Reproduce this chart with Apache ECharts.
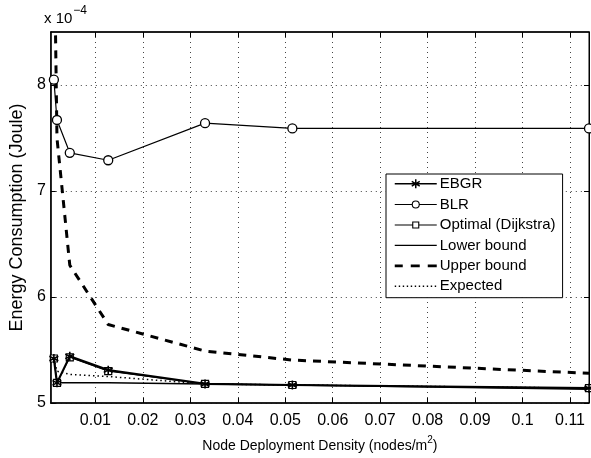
<!DOCTYPE html>
<html>
<head>
    <meta charset="utf-8">
    <title>Energy Consumption vs Node Deployment Density</title>
    <script type="text/javascript" src="https://cdn.jsdelivr.net/npm/echarts@6/dist/echarts.min.js"></script>
    <style>
        html, body { margin: 0; padding: 0; background: #fff; }
        #container { width: 591px; height: 458px; }
    </style>
</head>
<body>
<div id="container"></div>
<script type="text/javascript">
    // values, energy in units of 1e-4 Joule
    var density = [0.00125, 0.0019, 0.0046, 0.0127, 0.0331, 0.0515, 0.114];
    var ebgr = [5.42, 5.19, 5.44, 5.31, 5.18, 5.17, 5.14];
    var blr = [8.05, 7.67, 7.36, 7.29, 7.64, 7.59, 7.59];
    var optimal = [5.42, 5.19, 5.43, 5.30, 5.18, 5.17, 5.14];
    var lowerBound = [5.19, 5.19, 5.19, 5.19, 5.18, 5.17, 5.13];
    var upperBound = [9.6, 7.5, 6.3, 5.74, 5.49, 5.405, 5.28];
    var expected = [5.42, 5.30, 5.27, 5.25, 5.18, 5.17, 5.14];
    var xTicks = [0.01, 0.02, 0.03, 0.04, 0.05, 0.06, 0.07, 0.08, 0.09, 0.1, 0.11];
    var yTicks = [5, 6, 7, 8];

    function pairs(ys) {
        var out = [];
        for (var i = 0; i < density.length; i++) {
            out.push([density[i], ys[i]]);
        }
        return out;
    }

    var font = 'Liberation Sans, Arial, sans-serif';
    var asterisk = 'path://M0,-10L0,10M-8.7,-5L8.7,5M-8.7,5L8.7,-5';
    var gridLine = { show: true, lineStyle: { color: '#444', type: [1, 4], width: 1 } };

    // legend icons, 42 x 14 box (the lone M points fix the box)
    var box = 'M0,0M42,14';
    var iconEbgr = 'path://' + box + 'M0,7H42M21,2.5V11.5M17,4.7L25,9.3M17,9.3L25,4.7';
    var iconBlr = 'path://' + box + 'M0,7H17.5M24.5,7H42M24.5,7A3.5,3.5,0,1,1,17.5,7A3.5,3.5,0,1,1,24.5,7';
    var iconOpt = 'path://' + box + 'M0,7H18M24,7H42M18,4H24V10H18Z';
    var iconLower = 'path://' + box + 'M0,6.3H42V7.7H0Z';
    var iconUpper = 'path://' + box + 'M0,5.6H8V8.4H0ZM16,5.6H25V8.4H16ZM33,5.6H42V8.4H33Z';
    var dots = '';
    for (var d = 0; d < 42; d += 4) {
        dots += 'M' + d + ',6.3h1.4v1.4h-1.4Z';
    }
    var iconExpected = 'path://' + box + dots;

    var dom = document.getElementById('container');
    var myChart = echarts.init(dom, null, { renderer: 'canvas' });

    var option = {
        animation: false,
        backgroundColor: '#fff',
        textStyle: { fontFamily: font, color: '#000' },
        grid: { left: 46, right: 2, top: 32, bottom: 52, show: true, borderColor: '#000', borderWidth: 1 },
        graphic: [{
            type: 'text',
            left: 44,
            top: 5,
            style: {
                text: '{a|x 10}{b|−4}',
                rich: {
                    a: { fontSize: 15, fontFamily: font, fill: '#000', padding: [10, 0, 0, 0] },
                    b: { fontSize: 12, fontFamily: font, fill: '#000', padding: [0, 0, 6, 1] }
                }
            }
        }],
        legend: {
            left: 386,
            top: 174,
            orient: 'vertical',
            itemWidth: 42,
            itemHeight: 14,
            itemGap: 5.4,
            padding: [2, 7, 4, 8],
            backgroundColor: '#fff',
            borderColor: '#000',
            borderWidth: 1,
            borderRadius: 0,
            textStyle: { fontSize: 15, fontFamily: font, color: '#000', padding: [0, 0, 0, -2] },
            data: [
                { name: 'EBGR', icon: iconEbgr, itemStyle: { color: '#000', borderColor: '#000', borderWidth: 1.5 } },
                { name: 'BLR', icon: iconBlr, itemStyle: { color: '#fff', borderColor: '#000', borderWidth: 1.1 } },
                { name: 'Optimal (Dijkstra)', icon: iconOpt, itemStyle: { color: '#fff', borderColor: '#000', borderWidth: 1.1 } },
                { name: 'Lower bound', icon: iconLower, itemStyle: { color: '#000', borderWidth: 0 } },
                { name: 'Upper bound', icon: iconUpper, itemStyle: { color: '#000', borderWidth: 0 } },
                { name: 'Expected', icon: iconExpected, itemStyle: { color: '#000', borderWidth: 0 } }
            ]
        },
        xAxis: [{
            type: 'value',
            position: 'bottom',
            min: 0.0006,
            max: 0.114,
            name: '{a|Node Deployment Density (nodes/m}{s|2}{a|)}',
            nameLocation: 'middle',
            nameGap: 30,
            nameTextStyle: {
                rich: {
                    a: { fontSize: 14, fontFamily: font, color: '#000', padding: [6, 0, 0, 0] },
                    s: { fontSize: 10, fontFamily: font, color: '#000', padding: [0, 0, 6, 0] }
                }
            },
            axisLine: { show: true, lineStyle: { color: '#000', width: 1.5 } },
            axisTick: { show: true, inside: true, length: 5, customValues: xTicks, lineStyle: { color: '#000' } },
            axisLabel: {
                customValues: xTicks,
                margin: 10,
                fontSize: 16,
                color: '#000',
                fontFamily: font,
                formatter: function (v) { return String(+(+v).toFixed(2)); }
            },
            splitLine: gridLine
        }, {
            type: 'value',
            position: 'top',
            min: 0.0006,
            max: 0.114,
            axisLine: { show: true, lineStyle: { color: '#000', width: 1.5 } },
            axisTick: { show: true, inside: true, length: 5, customValues: xTicks, lineStyle: { color: '#000' } },
            axisLabel: { show: false },
            splitLine: { show: false }
        }],
        yAxis: [{
            type: 'value',
            position: 'left',
            min: 5,
            max: 8.5,
            interval: 1,
            name: 'Energy Consumption (Joule)',
            nameLocation: 'middle',
            nameGap: 20,
            nameTextStyle: { fontSize: 18, fontFamily: font, color: '#000' },
            axisLine: { show: true, lineStyle: { color: '#000', width: 1.5 } },
            axisTick: { show: true, inside: true, length: 5, customValues: yTicks, lineStyle: { color: '#000' } },
            axisLabel: {
                customValues: yTicks,
                margin: 5,
                fontSize: 16,
                color: '#000',
                fontFamily: font
            },
            splitLine: gridLine
        }, {
            type: 'value',
            position: 'right',
            min: 5,
            max: 8.5,
            interval: 1,
            axisLine: { show: true, lineStyle: { color: '#000', width: 1 } },
            axisTick: { show: true, inside: true, length: 5, customValues: yTicks, lineStyle: { color: '#000' } },
            axisLabel: { show: false },
            splitLine: { show: false }
        }],
        series: [
            {
                name: 'EBGR',
                type: 'line',
                data: pairs(ebgr),
                symbol: asterisk,
                symbolSize: 9,
                lineStyle: { color: '#000', width: 2.2 },
                itemStyle: { color: '#000', borderColor: '#000', borderWidth: 1.6 },
                z: 5
            },
            {
                name: 'BLR',
                type: 'line',
                data: pairs(blr),
                symbol: 'circle',
                symbolSize: 9,
                lineStyle: { color: '#000', width: 1.2 },
                itemStyle: { color: '#fff', borderColor: '#000', borderWidth: 1.3 },
                z: 4
            },
            {
                name: 'Optimal (Dijkstra)',
                type: 'line',
                data: pairs(optimal),
                symbol: 'rect',
                symbolSize: 7,
                lineStyle: { color: '#000', width: 1 },
                itemStyle: { color: '#fff', borderColor: '#000', borderWidth: 1.2 },
                z: 4
            },
            {
                name: 'Lower bound',
                type: 'line',
                data: pairs(lowerBound),
                symbol: 'none',
                lineStyle: { color: '#000', width: 1.5 },
                itemStyle: { color: '#000' },
                z: 3
            },
            {
                name: 'Upper bound',
                type: 'line',
                data: pairs(upperBound),
                symbol: 'none',
                lineStyle: { color: '#000', width: 3, type: [8, 7] },
                itemStyle: { color: '#000' },
                z: 3
            },
            {
                name: 'Expected',
                type: 'line',
                data: pairs(expected),
                symbol: 'none',
                lineStyle: { color: '#000', width: 1.5, type: [1.5, 3] },
                itemStyle: { color: '#000' },
                z: 3
            }
        ]
    };

    if (option && typeof option === 'object') {
        myChart.setOption(option);
    }

    window.addEventListener('resize', myChart.resize);
</script>
</body>
</html>
